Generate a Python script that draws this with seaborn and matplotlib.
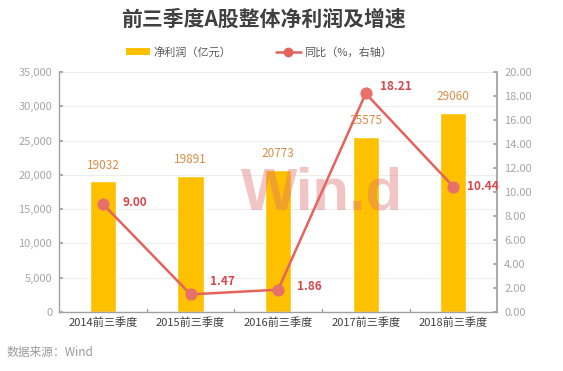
import matplotlib
matplotlib.use("Agg")
import matplotlib.pyplot as plt
import seaborn as sns
import pandas as pd
from matplotlib.lines import Line2D
from matplotlib.patches import Patch

categories = ["2014前三季度", "2015前三季度", "2016前三季度", "2017前三季度", "2018前三季度"]
profit = [19032, 19891, 20773, 25575, 29060]
yoy = [9.00, 1.47, 1.86, 18.21, 10.44]
left_ticks = [0, 5000, 10000, 15000, 20000, 25000, 30000, 35000]
right_ticks = [0, 2, 4, 6, 8, 10, 12, 14, 16, 18, 20]

sns.set_theme(style="white")
plt.rcParams['font.family'] = ['Noto Sans CJK SC', 'DejaVu Sans']

df = pd.DataFrame({"cat": categories, "profit": profit, "yoy": yoy})

fig = plt.figure(figsize=(5.63, 3.71), dpi=100)
ax = fig.add_axes([0.105, 0.159, 0.778, 0.647])
bar_color = "#FFC000"
line_color = "#E4635C"

sns.barplot(data=df, x="cat", y="profit", color=bar_color, width=0.3, ax=ax, saturation=1)
ax.set_ylim(0, 35000)
ax.set_xlim(-0.5, 4.5)
ax.set_yticks(left_ticks)
ax.set_yticklabels([f"{v:,}" for v in left_ticks])
ax.set_xlabel("")
ax.set_ylabel("")
ax.yaxis.grid(True, color="#EDEDED", linewidth=0.8)
ax.set_axisbelow(True)
for s in ["top", "right"]:
    ax.spines[s].set_visible(False)
for s in ["left", "bottom"]:
    ax.spines[s].set_color("#A0A0A0")
    ax.spines[s].set_linewidth(1.0)
ax.tick_params(axis="y", direction="in", length=3, color="#A0A0A0", labelsize=8, labelcolor="#A6A6A6", left=True, pad=5)
ax.tick_params(axis="x", length=0, labelsize=8, labelcolor="#404040", pad=4)
for xb in [0.5, 1.5, 2.5, 3.5]:
    ax.axvline(xb, ymin=0, ymax=0.012, color="#A0A0A0", linewidth=1)

for i, v in enumerate(profit):
    ax.text(i, v + 1400, str(v), ha="center", va="bottom", fontsize=8.5, color="#D98E45")

ax2 = ax.twinx()
sns.lineplot(data=df, x="cat", y="yoy", ax=ax2, color=line_color, linewidth=1.8,
             marker="o", markersize=8, markerfacecolor="#E8706A", markeredgecolor="#E8706A",
             sort=False)
ax2.set_ylim(0, 20)
ax2.set_yticks(right_ticks)
ax2.set_yticklabels([f"{v:.2f}" for v in right_ticks])
ax2.set_ylabel("")
ax2.set_xlabel("")
for s in ["top", "left", "bottom"]:
    ax2.spines[s].set_visible(False)
ax2.spines["right"].set_color("#A0A0A0")
ax2.tick_params(axis="y", direction="in", length=3, color="#A0A0A0", labelsize=8, labelcolor="#A6A6A6", right=True, pad=5)
ax2.grid(False)

offsets = [(0.22, 0.1), (0.22, 1.1), (0.22, 0.25), (0.16, 0.6), (0.16, 0.0)]
for i, v in enumerate(yoy):
    dx, dy = offsets[i]
    ax2.text(i + dx, v + dy, f"{v:.2f}", ha="left", va="center", fontsize=8.5,
             color="#D9454A", fontweight="bold")

fig.text(322 / 563, 1 - 194 / 371, "Win.d", ha="center", va="center", fontsize=43,
         color="#E07070", alpha=0.4, fontweight="bold", family=["Liberation Sans"], zorder=5)

fig.text(0.468, 0.948, "前三季度A股整体净利润及增速", ha="center", va="center",
         fontsize=15, fontweight="bold", color="#404040")

handles = [Patch(facecolor=bar_color, edgecolor="none"),
           Line2D([0], [0], color=line_color, linewidth=1.8, marker="o", markersize=6)]
fig.legend(handles, ["净利润（亿元）", "同比（%，右轴）"], loc="center", bbox_to_anchor=(0.46, 0.86),
           ncol=2, frameon=False, fontsize=8, labelcolor="#595959", handlelength=2.2,
           handleheight=0.6, columnspacing=4.0, handletextpad=0.3)

fig.text(0.012, 0.05, "数据来源：Wind", ha="left", va="center", fontsize=8.5, color="#9A9A9A")

fig.savefig("out.png", dpi=100)
